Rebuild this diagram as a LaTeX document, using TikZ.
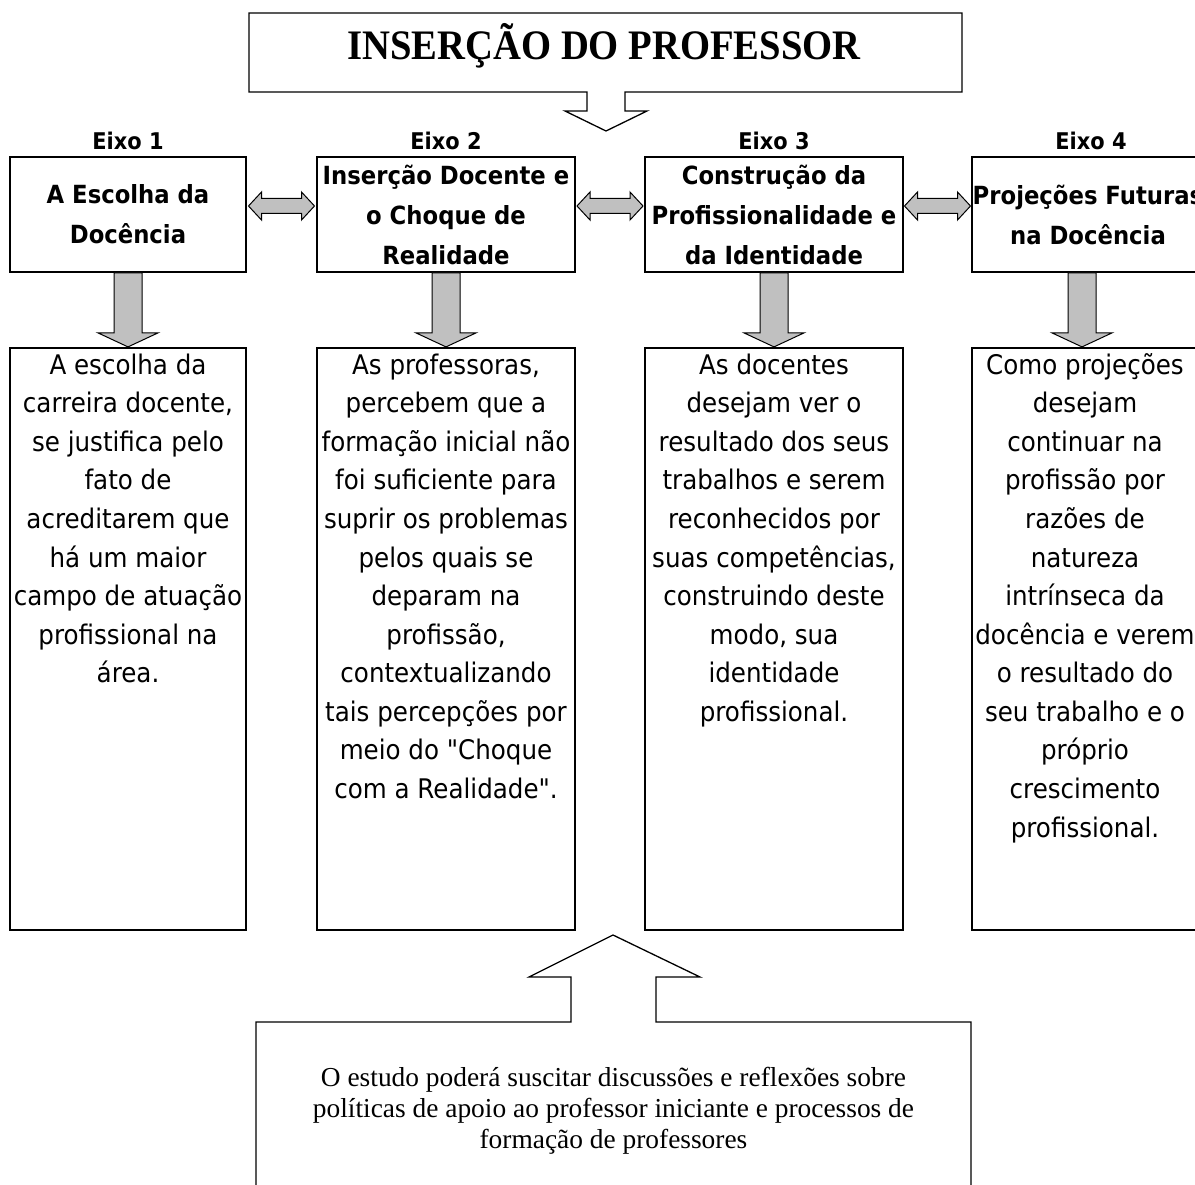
\documentclass[tikz,border=0pt]{standalone}
\usepackage{fontspec}
\usepackage{graphicx}
\usetikzlibrary{calc}
\newfontfamily\tahfont{DejaVu Sans}[FakeStretch=0.91]
\newfontfamily\timfont{Liberation Serif}
\definecolor{arrgray}{HTML}{C0C0C0}
\begin{document}
\begin{tikzpicture}[x=1pt,y=-1pt,
  boxline/.style={line width=1.8pt},
  headbox/.style={draw, boxline, inner sep=0pt, minimum height=115pt, align=center,
    font=\tahfont\bfseries\fontsize{25}{40}\selectfont},
  bodybox/.style={draw, boxline, inner sep=0pt, minimum height=582pt},
  bodytxt/.style={anchor=base, inner sep=0pt, font=\tahfont\fontsize{27}{38.6}\selectfont},
  eixolbl/.style={anchor=base, inner sep=0pt, font=\tahfont\bfseries\fontsize{23}{28}\selectfont},
  blockarrow/.style={fill=arrgray, draw=black, line width=1pt, line join=miter},
  outline/.style={draw=black, line width=1.3pt, line join=miter},
  pics/downblk/.style={code={
    \filldraw[blockarrow] (-14,0) -- (-14,60) -- (-30,60) -- (0,74) -- (30,60) -- (14,60) -- (14,0) -- cycle;
  }},
  pics/dblblk/.style={code={
    \filldraw[blockarrow] (-33,0) -- (-20,-14) -- (-20,-7.5) -- (20,-7.5) -- (20,-14) -- (33,0)
      -- (20,14) -- (20,7.5) -- (-20,7.5) -- (-20,14) -- cycle;
  }}
]
\useasboundingbox (0,0) rectangle (1195,1185);

% title
\draw[outline] (249,13) -- (962,13) -- (962,92) -- (625,92) -- (625,111) -- (647,111)
  -- (606,131) -- (565,111) -- (587,111) -- (587,92) -- (249,92) -- cycle;
\node[anchor=base, inner sep=0pt, font=\timfont\bfseries\fontsize{42}{42}\selectfont]
  (title) at (604,60) {\scalebox{0.92}[1]{INSERÇÃO DO PROFESSOR}};

% axis labels
\node[eixolbl] (e1) at (128,150) {Eixo 1};
\node[eixolbl] (e2) at (446,150) {Eixo 2};
\node[eixolbl] (e3) at (774,150) {Eixo 3};
\node[eixolbl] (e4) at (1091,150) {Eixo 4};

% header boxes
\node[headbox, minimum width=236pt] (h1) at (128,214.5) {A Escolha da\\Docência};
\node[headbox, minimum width=258pt] (h2) at (446,214.5) {Inserção Docente e\\o Choque de\\Realidade};
\node[headbox, minimum width=258pt] (h3) at (774,214.5) {Construção da\\Profissionalidade e\\da Identidade};
\node[headbox, minimum width=232pt] (h4) at (1088,214.5) {Projeções Futuras\\na Docência};

% double arrows between header boxes
\pic at ($($(h1.east)!0.5!(h2.west)$)+(0,-8.5)$) {dblblk};
\pic at ($($(h2.east)!0.5!(h3.west)$)+(0,-8.5)$) {dblblk};
\pic at ($($(h3.east)!0.5!(h4.west)$)+(0,-8.5)$) {dblblk};

% body boxes
\node[bodybox, minimum width=236pt] (b1) at (128,639) {};
\node[bodybox, minimum width=258pt] (b2) at (446,639) {};
\node[bodybox, minimum width=258pt] (b3) at (774,639) {};
\node[bodybox, minimum width=232pt] (b4) at (1088,639) {};

% down arrows
\pic at (h1.south) {downblk};
\pic at (h2.south) {downblk};
\pic at (h3.south) {downblk};
\pic at ($(h4.south)+(-6,0)$) {downblk};

% body texts
\node[bodytxt] (t1) at (128,374) {\parbox[t]{300pt}{\centering
A escolha da\\carreira docente,\\se justifica pelo\\fato de\\acreditarem que\\há um maior\\campo de atuação\\profissional na\\área.}};
\node[bodytxt] (t2) at (446,374) {\parbox[t]{300pt}{\centering
As professoras,\\percebem que a\\formação inicial não\\foi suficiente para\\suprir os problemas\\pelos quais se\\deparam na\\profissão,\\contextualizando\\tais percepções por\\meio do "Choque\\com a Realidade".}};
\node[bodytxt] (t3) at (774,374) {\parbox[t]{300pt}{\centering
As docentes\\desejam ver o\\resultado dos seus\\trabalhos e serem\\reconhecidos por\\suas competências,\\construindo deste\\modo, sua\\identidade\\profissional.}};
\node[bodytxt] (t4) at (1085,374) {\parbox[t]{300pt}{\centering
Como projeções\\desejam\\continuar na\\profissão por\\razões de\\natureza\\intrínseca da\\docência e verem\\o resultado do\\seu trabalho e o\\próprio\\crescimento\\profissional.}};

% bottom box with up arrow
\draw[outline] (256,1200) -- (256,1022) -- (571,1022) -- (571,977) -- (529,977) -- (613,935)
  -- (700,977) -- (656,977) -- (656,1022) -- (971,1022) -- (971,1200);
\node[anchor=base, inner sep=0pt, font=\timfont\fontsize{27.4}{31}\selectfont] (concl) at (613.5,1086)
  {\parbox[t]{700pt}{\centering O estudo poderá suscitar discussões e reflexões sobre\\políticas de apoio ao professor iniciante e processos de\\formação de professores}};
\end{tikzpicture}
\end{document}
